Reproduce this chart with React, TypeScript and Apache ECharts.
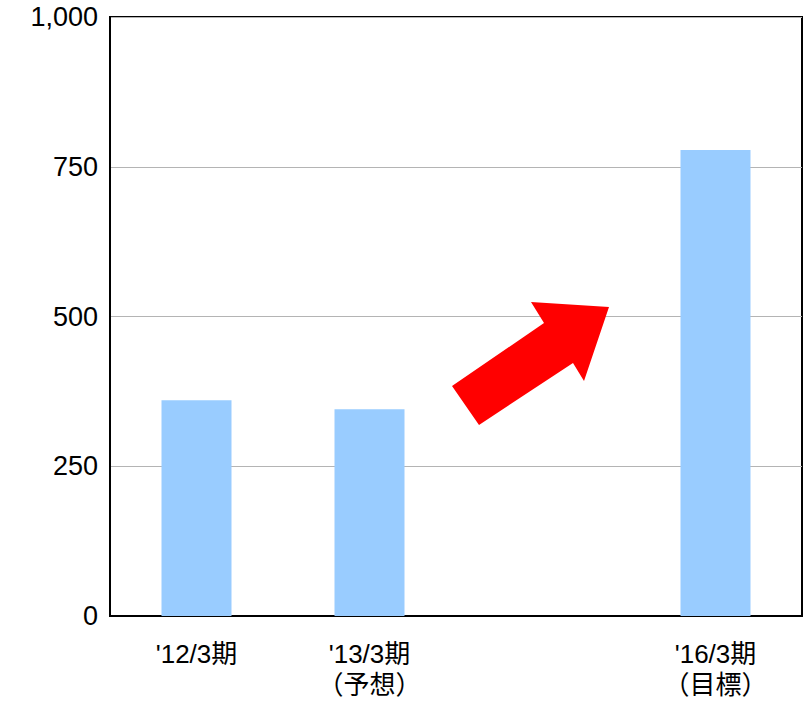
import React, { useEffect, useRef } from "react";
import * as echarts from "echarts";

const categories = ["'12/3期", "'13/3期\n（予想）", "", "'16/3期\n（目標）"];
const values: (number | string)[] = [360, 345, "-", 778];
const yTicks = { min: 0, max: 1000, interval: 250 };
const arrowPoints = [
  [452, 386],
  [544, 323],
  [531, 302],
  [609, 307],
  [584, 381],
  [573, 363],
  [479, 425],
];

const FONT = '"Liberation Sans", Arial, "Noto Sans CJK JP", sans-serif';

export default function App() {
  const ref = useRef<HTMLDivElement>(null);
  useEffect(() => {
    if (!ref.current) return;
    const chart = echarts.init(ref.current, undefined, { renderer: "svg" });
    chart.setOption({
      animation: false,
      backgroundColor: "#fff",
      grid: {
        left: 110,
        right: 10,
        top: 17,
        bottom: 88,
        show: true,
        borderColor: "#000",
        borderWidth: 2,
        backgroundColor: "transparent",
      },
      xAxis: {
        type: "category",
        data: categories,
        axisLine: { show: true, lineStyle: { color: "#000", width: 2 } },
        axisTick: { show: false },
        axisLabel: {
          color: "#000",
          fontSize: 26,
          fontFamily: FONT,
          lineHeight: 31,
          margin: 22,
          interval: 0,
        },
      },
      yAxis: {
        type: "value",
        min: yTicks.min,
        max: yTicks.max,
        interval: yTicks.interval,
        axisLine: { show: true, lineStyle: { color: "#000", width: 2 } },
        axisTick: { show: false },
        splitLine: { show: true, lineStyle: { color: "#b4b4b4", width: 1 } },
        axisLabel: {
          color: "#000",
          fontSize: 27,
          fontFamily: FONT,
          margin: 12,
          formatter: (v: number) => v.toLocaleString("en-US"),
        },
      },
      series: [
        {
          type: "bar",
          data: values,
          barWidth: 70,
          itemStyle: { color: "#99CCFF" },
        },
      ],
      graphic: [
        {
          type: "polygon",
          shape: { points: arrowPoints },
          style: { fill: "#FF0000" },
          z: 100,
        },
      ],
    });
    return () => chart.dispose();
  }, []);
  return (
    <div
      ref={ref}
      style={{ position: "fixed", left: 0, top: 0, width: 812, height: 704 }}
    />
  );
}
